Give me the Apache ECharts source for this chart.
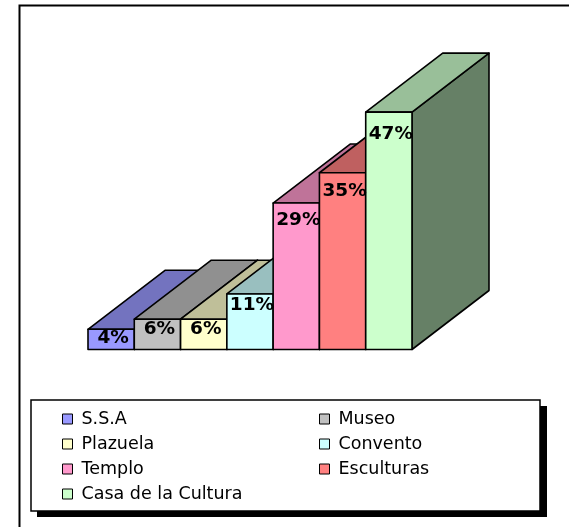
<!DOCTYPE html>
<html>
<head>
<meta charset="utf-8">
<script src="https://cdn.jsdelivr.net/npm/echarts@6/dist/echarts.min.js"></script>
<style>
html,body{margin:0;padding:0;background:#fff;}
#chart{width:569px;height:527px;}
</style>
</head>
<body>
<div id="chart"></div>
<script>
// ---- data ----
const categories = ['S.S.A', 'Museo', 'Plazuela', 'Convento', 'Templo', 'Esculturas', 'Casa de la Cultura'];
const values = [4, 6, 6, 11, 29, 35, 47];
const leftLegend = ['S.S.A', 'Plazuela', 'Templo', 'Casa de la Cultura'];
const rightLegend = ['Museo', 'Convento', 'Esculturas'];

// ---- styles ----
const frontColors = ['#9999FF', '#C0C0C0', '#FFFFCC', '#CCFFFF', '#FF99CC', '#FF8080', '#CCFFCC'];
const topColors   = ['#7373BF', '#909090', '#BFBF99', '#99BFBF', '#BF7399', '#BF6060', '#99BF99'];
const sideColors  = ['#4D4D80', '#606060', '#808066', '#668080', '#804D66', '#804040', '#668066'];
const DX = 77, DY = -59;

function renderItem(params, api) {
  const idx = api.value(0), v = api.value(1);
  const base = api.coord([idx, 0]);
  const top = api.coord([idx, v]);
  const w = api.size([1, 0])[0];
  const x0 = base[0] - w / 2, x1 = base[0] + w / 2;
  const yb = base[1], yt = top[1];
  const line = {stroke: '#000', lineWidth: 1.6, lineJoin: 'round'};
  const z = idx * 3;
  return {
    type: 'group',
    children: [
      {type: 'polygon', z2: z, shape: {points: [[x1, yt], [x1, yb], [x1 + DX, yb + DY], [x1 + DX, yt + DY]]},
        style: Object.assign({fill: sideColors[idx]}, line)},
      {type: 'polygon', z2: z + 1, shape: {points: [[x0, yt], [x1, yt], [x1 + DX, yt + DY], [x0 + DX, yt + DY]]},
        style: Object.assign({fill: topColors[idx]}, line)},
      {type: 'rect', z2: z + 2, shape: {x: x0, y: yt, width: w, height: yb - yt},
        style: Object.assign({fill: frontColors[idx]}, line)},
      {type: 'text', z2: 1000, style: {
        text: v + '%', x: base[0] + 2, y: yt + 8 + 0.06 * (yb - yt),
        align: 'center', verticalAlign: 'middle',
        fontFamily: 'DejaVu Sans', fontWeight: 'bold', fontSize: 18.5, fill: '#000'}}
    ]
  };
}

const series = categories.map((c, i) => ({
  type: 'custom',
  name: c,
  data: [[i, values[i]]],
  encode: {x: 0, y: 1},
  itemStyle: {color: frontColors[i]},
  renderItem: renderItem
}));

const legendCommon = {
  orient: 'vertical',
  top: 410,
  padding: 0,
  icon: 'rect',
  itemWidth: 10,
  itemHeight: 10,
  itemGap: 7,
  selectedMode: false,
  itemStyle: {borderColor: '#000', borderWidth: 1},
  textStyle: {color: '#000', fontFamily: 'DejaVu Sans', fontSize: 17.5, lineHeight: 16, padding: [0, 0, 0, 4]}
};

const chart = echarts.init(document.getElementById('chart'), null, {renderer: 'canvas'});
chart.setOption({
  animation: false,
  backgroundColor: '#fff',
  grid: {left: 88, top: 97, width: 324, height: 252.5},
  xAxis: {type: 'category', data: categories, show: false, boundaryGap: true},
  yAxis: {type: 'value', min: 0, max: 50, show: false},
  legend: [
    Object.assign({left: 62, data: leftLegend}, legendCommon),
    Object.assign({left: 319, data: rightLegend}, legendCommon)
  ],
  graphic: [
    {type: 'rect', z: 0, silent: true, shape: {x: 19.5, y: 5.5, width: 620, height: 620},
      style: {fill: 'none', stroke: '#000', lineWidth: 2}},
    {type: 'rect', z: 0, silent: true, shape: {x: 37, y: 406, width: 510, height: 111},
      style: {fill: '#000'}},
    {type: 'rect', z: 0, silent: true, shape: {x: 31, y: 400, width: 509, height: 111},
      style: {fill: '#fff', stroke: '#000', lineWidth: 1.5}}
  ],
  series: series
});
</script>
</body>
</html>
